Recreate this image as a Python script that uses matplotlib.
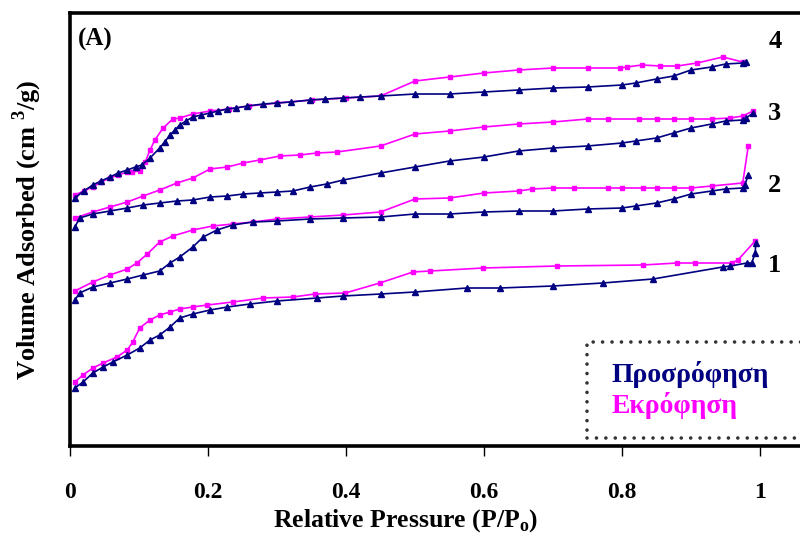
import matplotlib
matplotlib.use('Agg')
import matplotlib.pyplot as plt

plt.rcParams['font.family'] = ['Liberation Serif', 'DejaVu Serif']
plt.rcParams['font.weight'] = 'bold'
plt.rcParams['mathtext.fontset'] = 'custom'
plt.rcParams['mathtext.rm'] = 'Liberation Serif:bold'
plt.rcParams['mathtext.bf'] = 'Liberation Serif:bold'

# relative pressure P/Po and volume adsorbed (arbitrary units, curves offset)
# sample 4
ads4_x = [0.007, 0.02, 0.033, 0.045, 0.058, 0.07, 0.083, 0.095, 0.104, 0.116, 0.13, 0.137, 0.145, 0.152,
          0.159, 0.168, 0.178, 0.19, 0.203, 0.215, 0.228, 0.24, 0.257, 0.28, 0.30, 0.32, 0.348, 0.37,
          0.396, 0.42, 0.45, 0.50, 0.55, 0.60, 0.65, 0.70, 0.75, 0.80, 0.82, 0.85, 0.875, 0.90, 0.93,
          0.95, 0.975, 0.98]
ads4_y = [248, 255, 261, 265, 269, 273, 276, 279, 281, 288, 298, 304, 311, 316,
          321, 325, 329, 331, 333, 335, 337, 338, 340, 342, 343, 344, 346, 347,
          348, 349, 350, 352, 352, 354, 356, 358, 359, 361, 363, 367, 370, 376, 379,
          382, 383, 384]
des4_x = [0.975, 0.946, 0.909, 0.88, 0.855, 0.829, 0.807, 0.797, 0.75, 0.70, 0.65, 0.60, 0.55, 0.50,
          0.45, 0.40, 0.35, 0.30, 0.26, 0.23, 0.203, 0.178, 0.159, 0.149, 0.135, 0.123, 0.116, 0.109,
          0.101, 0.09, 0.083, 0.07, 0.058, 0.045, 0.033, 0.02, 0.007]
des4_y = [384, 389, 383, 380, 380, 381, 379, 378, 378, 378, 376, 373, 369, 365,
          350, 348, 346, 343, 340, 337, 335, 332, 328, 327, 318, 306, 296, 284,
          275, 274, 274, 271, 268, 264, 259, 255, 251]

# sample 3
ads3_x = [0.007, 0.014, 0.033, 0.058, 0.083, 0.106, 0.13, 0.155, 0.178, 0.203, 0.228, 0.251, 0.275,
          0.30, 0.323, 0.348, 0.372, 0.396, 0.45, 0.50, 0.55, 0.60, 0.65, 0.70, 0.75, 0.80, 0.82,
          0.85, 0.875, 0.90, 0.93, 0.95, 0.975, 0.98, 0.99]
ads3_y = [219, 228, 232, 235, 238, 241, 243, 245, 246, 249, 250, 252, 253,
          254, 255, 259, 262, 266, 273, 279, 285, 289, 295, 298, 300, 303, 305,
          308, 313, 318, 322, 325, 326, 328, 333]
des3_x = [0.99, 0.975, 0.957, 0.93, 0.90, 0.875, 0.85, 0.825, 0.78, 0.75, 0.70, 0.65, 0.60, 0.55,
          0.50, 0.45, 0.387, 0.358, 0.333, 0.304, 0.275, 0.251, 0.228, 0.203, 0.178, 0.155, 0.13,
          0.106, 0.083, 0.058, 0.033, 0.007]
des3_y = [335, 330, 328, 327, 327, 327, 327, 327, 327, 327, 324, 322, 319, 315,
          312, 300, 294, 293, 291, 290, 286, 283, 279, 277, 268, 263, 256,
          250, 244, 239, 234, 228]

# sample 2
ads2_x = [0.007, 0.014, 0.033, 0.058, 0.083, 0.106, 0.13, 0.145, 0.159, 0.178, 0.193, 0.213, 0.236,
          0.265, 0.30, 0.348, 0.396, 0.45, 0.50, 0.55, 0.60, 0.65, 0.70, 0.75, 0.80, 0.82, 0.85,
          0.875, 0.90, 0.93, 0.95, 0.975, 0.978, 0.983]
ads2_y = [146, 153, 159, 163, 167, 171, 175, 183, 189, 199, 209, 216, 221,
          224, 225, 227, 228, 229, 232, 232, 234, 235, 235, 237, 238, 240, 243,
          247, 252, 255, 257, 258, 261, 271]
des2_x = [0.983, 0.975, 0.93, 0.90, 0.875, 0.85, 0.83, 0.80, 0.78, 0.73, 0.70, 0.67, 0.65, 0.60,
          0.55, 0.50, 0.45, 0.396, 0.348, 0.30, 0.265, 0.236, 0.207, 0.178, 0.149, 0.13, 0.112,
          0.097, 0.083, 0.058, 0.033, 0.007]
des2_y = [300, 263, 260, 258, 258, 258, 258, 258, 258, 258, 258, 257, 255, 253,
          248, 247, 234, 231, 229, 227, 224, 222, 220, 216, 210, 204, 192,
          183, 177, 171, 164, 155]

# sample 1
ads1_x = [0.007, 0.019, 0.033, 0.048, 0.062, 0.083, 0.101, 0.116, 0.13, 0.145, 0.159, 0.178, 0.203,
          0.228, 0.261, 0.30, 0.358, 0.396, 0.45, 0.50, 0.575, 0.623, 0.70, 0.772, 0.845, 0.946,
          0.957, 0.981, 0.988, 0.993, 0.994]
ads1_y = [58, 64, 73, 79, 84, 91, 98, 106, 111, 119, 128, 132, 136,
          139, 142, 145, 148, 150, 152, 154, 158, 158, 160, 163, 167, 179,
          180, 183, 183, 193, 203]
des1_x = [0.993, 0.968, 0.959, 0.906, 0.88, 0.83, 0.706, 0.599, 0.522, 0.497, 0.449, 0.399, 0.355,
          0.323, 0.28, 0.236, 0.199, 0.178, 0.159, 0.145, 0.13, 0.116, 0.101, 0.091, 0.083, 0.068,
          0.048, 0.033, 0.019, 0.007]
des1_y = [205, 186, 183, 183, 183, 181, 180, 178, 175, 174, 163, 153, 152,
          149, 148, 144, 141, 139, 137, 134, 131, 126, 118, 104, 96, 89,
          83, 78, 71, 64]

ads_sets = [(ads1_x, ads1_y), (ads2_x, ads2_y), (ads3_x, ads3_y), (ads4_x, ads4_y)]
des_sets = [(des1_x, des1_y), (des2_x, des2_y), (des3_x, des3_y), (des4_x, des4_y)]
sample_names = ['1', '2', '3', '4']
sample_label_y = [181, 261, 333, 404]

ads_color = '#000080'
des_color = '#FF00FF'

fig = plt.figure(figsize=(8, 5.37), dpi=100)
ax = fig.add_axes([70 / 800, 91 / 537, 730 / 800, 433 / 537])

for (dx, dy) in des_sets:
    h_des, = ax.plot(dx, dy, color=des_color, lw=1.2, marker='s', ms=3.2, mec=des_color)
for (ax_x, ax_y) in ads_sets:
    h_ads, = ax.plot(ax_x, ax_y, color=ads_color, lw=1.2, marker='^', ms=4, mec=ads_color)

for name, yy in zip(sample_names, sample_label_y):
    ax.text(1.012, yy, name, fontsize=19, fontweight='bold', ha='left', va='center')

ax.text(0.012, 407, '(A)', fontsize=18, fontweight='bold', ha='left', va='center')

ax.set_xlim(0, 730 / 690)
ax.set_ylim(0, 433)
ax.set_xticks([0, 0.2, 0.4, 0.6, 0.8, 1])
ax.set_xticklabels(['0', '0.2', '0.4', '0.6', '0.8', '1'])
ax.set_yticks([])
ax.tick_params(axis='x', direction='out', length=7, width=1, labelsize=17, pad=19)

for side in ['left', 'top', 'bottom']:
    ax.spines[side].set_linewidth(2.6)
ax.spines['right'].set_visible(False)

ax.set_xlabel('Relative Pressure (P/P$_{\\mathrm{o}}$)', fontsize=18.5, fontweight='bold')
ax.xaxis.set_label_coords((406 - 70) / 730, -(507 - 446) / 433)
ax.set_ylabel('Volume Adsorbed (cm $^{3}$/g)', fontsize=19, fontweight='bold')
ax.yaxis.set_label_coords(-(70 - 44) / 730, (446 - 230) / 433)

leg = ax.legend([h_ads, h_des], ['Προσρόφηση', 'Εκρόφηση'], loc='upper left',
                bbox_to_anchor=((587 - 70) / 730, (446 - 342) / 433, (806 - 587) / 730, 0),
                mode='expand', borderaxespad=0,
                handlelength=0, handletextpad=0.2, markerscale=0,
                labelcolor=[ads_color, des_color], fancybox=False, borderpad=0.68,
                labelspacing=0.15, prop={'weight': 'bold', 'size': 20})
for h in leg.legend_handles:
    h.set_visible(False)
frame = leg.get_frame()
frame.set_edgecolor('black')
frame.set_linestyle((0, (0.01, 2.6)))
frame.set_linewidth(2.6)
frame.set_capstyle('round')

fig.savefig('out.png', dpi=100)
